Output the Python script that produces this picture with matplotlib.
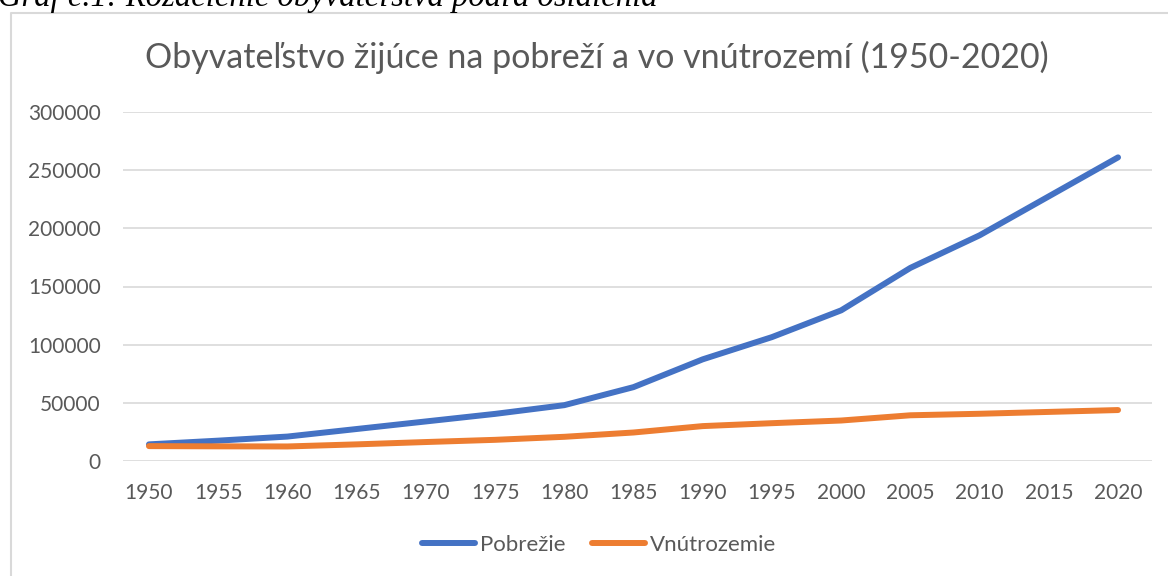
import matplotlib.pyplot as plt
from matplotlib.lines import Line2D

years = [1950, 1955, 1960, 1965, 1970, 1975, 1980, 1985, 1990, 1995, 2000, 2005, 2010, 2015, 2020]
pobrezie = [14300, 17500, 21000, 27500, 34000, 40500, 48000, 63500, 87400, 106500, 129500, 166000, 194000, 227500, 261000]
vnutrozemie = [12800, 12600, 12500, 14300, 16300, 18200, 20800, 24500, 30000, 32500, 34800, 39300, 40600, 42200, 43800]
y_ticks = [0, 50000, 100000, 150000, 200000, 250000, 300000]

title = 'Obyvateľstvo žijúce na pobreží a vo vnútrozemí (1950-2020)'
caption = 'Graf č.1: Rozdelenie obyvateľstva podľa osídlenia'

W, H = 1168, 576
gray = '#595959'
blue = '#4472C4'
orange = '#ED7D31'

plt.rcParams['font.family'] = ['Lato', 'DejaVu Sans']

fig = plt.figure(figsize=(W / 100, H / 100), dpi=100)
ax = fig.add_axes([123 / W, 1 - 461 / H, (1152 - 123) / W, (461 - 112) / H])

l1, = ax.plot(years, pobrezie, color=blue, lw=4.3, solid_capstyle='round', solid_joinstyle='round')
l2, = ax.plot(years, vnutrozemie, color=orange, lw=4.3, solid_capstyle='round', solid_joinstyle='round')

ax.set_xlim(1950 - 26 / 69.3 * 5, 2020 + 34 / 69.3 * 5)
ax.set_ylim(0, 300000)
ax.set_xticks(years)
ax.set_xticklabels([str(y) for y in years])
ax.set_yticks(y_ticks)
ax.set_yticklabels([str(v) for v in y_ticks])
ax.tick_params(axis='both', length=0, labelsize=15, colors=gray)
ax.tick_params(axis='y', pad=16)
ax.tick_params(axis='x', pad=16)
ax.grid(axis='y', color='#d9d9d9', lw=1.2)
ax.set_axisbelow(True)
for s in ax.spines.values():
    s.set_visible(False)

fig.text(597 / W, 1 - 57 / H, title, ha='center', va='center', fontsize=24.5, color=gray)

# caption above the chart, mostly cut off
fig.text(-2 / W, 1 - 6 / H, caption, ha='left', va='baseline', fontsize=23.5,
         family='Liberation Serif', style='italic', color='black')

# chart frame
fig.add_artist(Line2D([11 / W, 11 / W, 1.0], [0, 1 - 13 / H, 1 - 13 / H],
                      transform=fig.transFigure, color='#d9d9d9', lw=1.5))

fig.legend([l1, l2], ['Pobrežie', 'Vnútrozemie'], loc='center',
           bbox_to_anchor=(599 / W, 1 - 545 / H), ncol=2, frameon=False,
           fontsize=16, labelcolor=gray, handlelength=2.4, handletextpad=0.2,
           columnspacing=1.2)

fig.savefig('out.png', dpi=100)
